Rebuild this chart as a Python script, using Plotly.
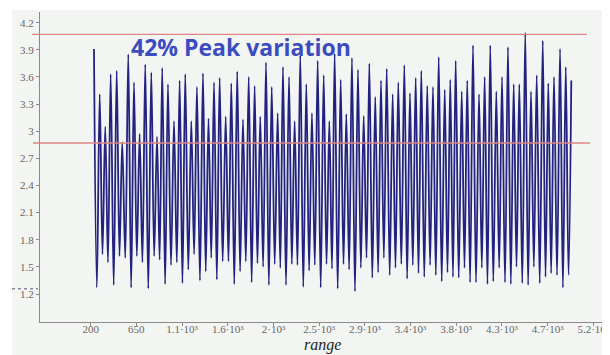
import plotly.graph_objects as go

# ---- data ----
peak_x = [233, 290, 345, 399, 459, 514, 574, 631, 687, 743,
          803, 860, 912, 969, 1029, 1085, 1141, 1201, 1257, 1317,
          1372, 1427, 1483, 1543, 1599, 1658, 1715, 1772, 1831, 1887,
          1944, 2001, 2060, 2113, 2173, 2229, 2285, 2345, 2401, 2458,
          2518, 2574, 2627, 2687, 2743, 2799, 2859, 2916, 2972, 3031,
          3088, 3145, 3204, 3260, 3320, 3376, 3433, 3489, 3548, 3605,
          3662, 3722, 3777, 3831, 3891, 3946, 4003, 4063, 4119, 4175,
          4235, 4292, 4351, 4408, 4464, 4523, 4580, 4637, 4697, 4752,
          4809, 4869, 4926, 4981]
peak_y = [3.91, 3.41, 3.05, 3.63, 3.67, 2.88, 3.85, 3.54, 2.97, 3.74,
          3.65, 2.94, 3.70, 3.52, 3.11, 3.56, 3.63, 3.11, 3.49, 3.64,
          3.14, 3.54, 3.59, 3.16, 3.53, 3.66, 3.13, 3.60, 3.50, 3.16,
          3.76, 3.49, 3.20, 3.71, 3.60, 3.11, 3.84, 3.52, 3.20, 3.78,
          3.62, 3.11, 3.86, 3.57, 3.19, 3.81, 3.68, 3.17, 3.75, 3.38,
          3.56, 3.69, 3.41, 3.54, 3.73, 3.42, 3.59, 3.67, 3.50, 3.49,
          3.82, 3.46, 3.57, 3.78, 3.44, 3.56, 3.95, 3.41, 3.60, 3.95,
          3.44, 3.60, 3.93, 3.52, 3.52, 4.09, 3.44, 3.62, 4.00, 3.53,
          3.60, 3.91, 3.71, 3.56]
trough_y = [1.27, 1.64, 1.55, 1.30, 1.62, 1.60, 1.27, 1.62, 1.55, 1.26,
            1.62, 1.58, 1.31, 1.52, 1.55, 1.32, 1.47, 1.64, 1.35, 1.45,
            1.60, 1.36, 1.56, 1.56, 1.31, 1.45, 1.56, 1.33, 1.54, 1.50,
            1.30, 1.53, 1.49, 1.30, 1.53, 1.52, 1.28, 1.46, 1.52, 1.27,
            1.53, 1.48, 1.26, 1.53, 1.47, 1.23, 1.49, 1.60, 1.38, 1.44,
            1.60, 1.41, 1.49, 1.53, 1.37, 1.52, 1.43, 1.39, 1.52, 1.41,
            1.34, 1.44, 1.39, 1.38, 1.49, 1.33, 1.33, 1.49, 1.31, 1.34,
            1.49, 1.33, 1.31, 1.50, 1.32, 1.30, 1.50, 1.32, 1.39, 1.43,
            1.41, 1.27, 1.41]

upper_level = 4.07
lower_level = 2.87
marker_level = 1.258

x_tickvals = [200, 654.5, 1109.1, 1563.6, 2018.2, 2472.7, 2927.3,
              3381.8, 3836.4, 4290.9, 4745.5, 5200]
x_ticktext = ["200", "650", "1.1·10³", "1.6·10³", "2·10³", "2.5·10³",
              "2.9·10³", "3.4·10³", "3.8·10³", "4.3·10³", "4.7·10³", "5.2·10³"]
y_tickvals = [1.2, 1.5, 1.8, 2.1, 2.4, 2.7, 3.0, 3.3, 3.6, 3.9, 4.2]
y_ticktext = ["1.2", "1.5", "1.8", "2.1", "2.4", "2.7", "3", "3.3", "3.6", "3.9", "4.2"]

title_text = "42% Peak variation"
x_label = "range"

# ---- build the oscillating line (peak, trough, peak, ...) ----
xs, ys = [], []
for i in range(len(peak_x)):
    xs.append(peak_x[i]); ys.append(peak_y[i])
    if i < len(trough_y):
        xs.append((peak_x[i] + peak_x[i + 1]) / 2.0)
        ys.append(trough_y[i])

# page body has an 8px margin; work in window pixels and convert
OFF = 8
W, H = 610 - OFF, 355 - OFF
PL, PR, PT, PB = 40, 610, 12, 322          # plot box in window pixels
ml, mr, mt, mb = PL - OFF, 0, PT - OFF, H - (PB - OFF)
pw, ph = W - ml - mr, H - mt - mb


def px(xw):
    return (xw - PL) / pw


def py(yw):
    return (PB - yw) / ph


fig = go.Figure()
fig.add_trace(go.Scatter(x=xs, y=ys, mode="lines",
                         line=dict(color="#23237f", width=1.8, shape="spline"),
                         hoverinfo="skip", showlegend=False))

shapes = [
    dict(type="rect", xref="paper", yref="paper", x0=px(12), x1=1.0,
         y0=py(355), y1=py(10), fillcolor="#f3f5f3", line=dict(width=0), layer="below"),
    dict(type="line", xref="paper", yref="y", x0=px(32), x1=px(587),
         y0=upper_level, y1=upper_level, line=dict(color="#de8585", width=1.3)),
    dict(type="line", xref="paper", yref="y", x0=px(33), x1=px(590),
         y0=lower_level, y1=lower_level, line=dict(color="#de8585", width=1.3)),
    dict(type="line", xref="paper", yref="y", x0=px(12), x1=px(38),
         y0=marker_level, y1=marker_level, line=dict(color="#555577", width=1, dash="dot")),
]

fig.update_layout(
    width=W, height=H,
    margin=dict(l=ml, r=mr, t=mt, b=mb, pad=0),
    paper_bgcolor="#ffffff", plot_bgcolor="rgba(0,0,0,0)",
    shapes=shapes,
    showlegend=False,
    annotations=[
        dict(text=title_text, xref="paper", yref="paper", x=px(129), y=py(46.5),
             xanchor="left", yanchor="middle", showarrow=False,
             font=dict(family="Open Sans", size=23, color="#3b4cc0", weight="bold")),
        dict(text=x_label, xref="paper", yref="paper", x=px(322), y=py(344.5),
             xanchor="center", yanchor="middle", showarrow=False,
             font=dict(family="Liberation Serif", size=16, color="#222222", style="italic")),
    ],
)

fig.update_xaxes(range=[-304, 5366], showgrid=False, zeroline=False,
                 showline=True, linecolor="#8a8a8a", linewidth=1,
                 tickmode="array", tickvals=x_tickvals, ticktext=x_ticktext,
                 ticks="outside", ticklen=3, tickcolor="#8a8a8a",
                 ticklabelstandoff=-6,
                 tickfont=dict(family="Liberation Serif", size=11, color="#666666"))
fig.update_yaxes(range=[0.891, 4.318], showgrid=False, zeroline=False,
                 showline=True, linecolor="#8a8a8a", linewidth=1,
                 tickmode="array", tickvals=y_tickvals, ticktext=y_ticktext,
                 ticks="outside", ticklen=3, tickcolor="#8a8a8a",
                 tickfont=dict(family="Liberation Serif", size=11, color="#666666"))

fig.write_html("out.html")
